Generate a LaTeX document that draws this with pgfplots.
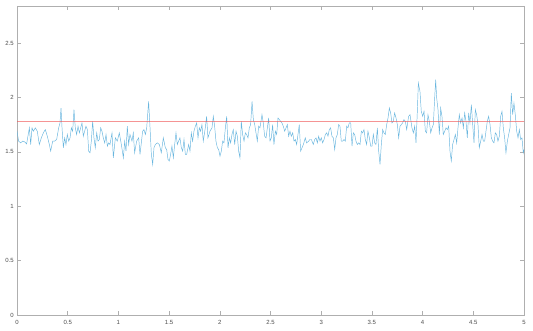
\documentclass[border=0pt]{standalone}
\usepackage{pgfplots}
\pgfplotsset{compat=1.18}
\usepackage{fontspec}
\setmainfont{Liberation Sans}
\definecolor{sigblue}{RGB}{105,182,222}
\definecolor{refred}{RGB}{240,90,90}
\definecolor{axgray}{RGB}{175,175,175}
\begin{document}
\begin{tikzpicture}
\begin{axis}[
  scale only axis,
  width=380.25pt, height=231.75pt,
  xmin=0, xmax=5, ymin=0, ymax=2.84,
  xtick={0,0.5,...,5}, ytick={0,0.5,1,1.5,2,2.5},
  axis line style={axgray, line width=0.4pt},
  tick style={axgray, line width=0.4pt},
  major tick length=3pt,
  tick align=inside,
  tick label style={font=\fontsize{4.5}{5}\selectfont, text=black!70},
  /pgf/number format/assume math mode=true,
  xticklabel style={yshift=-0.5pt},
  yticklabel style={xshift=1pt},
  clip=true,
]
\addplot[draw=sigblue, line width=0.35pt, mark=none] coordinates {
(0.000,1.689)(0.016,1.598)(0.036,1.582)(0.056,1.598)(0.076,1.591)(0.095,1.573)
(0.122,1.720)(0.135,1.567)(0.148,1.720)(0.161,1.689)(0.181,1.720)(0.200,1.689)
(0.220,1.567)(0.240,1.628)(0.260,1.674)(0.279,1.704)(0.299,1.643)(0.319,1.567)
(0.332,1.506)(0.352,1.598)(0.371,1.598)(0.391,1.613)(0.411,1.720)(0.424,1.765)
(0.434,1.902)(0.444,1.720)(0.457,1.537)(0.470,1.628)(0.483,1.567)(0.496,1.659)
(0.510,1.598)(0.523,1.628)(0.536,1.720)(0.549,1.689)(0.562,1.887)(0.575,1.720)
(0.588,1.659)(0.602,1.735)(0.615,1.674)(0.628,1.720)(0.641,1.765)(0.654,1.643)
(0.667,1.689)(0.680,1.735)(0.694,1.704)(0.707,1.506)(0.720,1.491)(0.733,1.598)
(0.746,1.780)(0.759,1.628)(0.772,1.537)(0.786,1.674)(0.799,1.598)(0.812,1.613)
(0.825,1.720)(0.838,1.689)(0.851,1.628)(0.865,1.582)(0.878,1.659)(0.891,1.552)
(0.904,1.582)(0.917,1.567)
(0.937,1.674)(0.950,1.445)(0.970,1.628)(0.989,1.598)(1.009,1.674)(1.029,1.567)
(1.049,1.445)(1.062,1.598)(1.075,1.506)(1.088,1.735)(1.101,1.567)(1.114,1.659)
(1.134,1.598)(1.147,1.674)(1.160,1.491)(1.180,1.598)(1.200,1.628)(1.213,1.476)
(1.226,1.582)(1.239,1.689)(1.252,1.704)(1.266,1.659)(1.279,1.720)(1.298,1.963)
(1.312,1.720)(1.325,1.476)(1.338,1.384)(1.351,1.537)(1.364,1.567)(1.384,1.582)
(1.404,1.567)(1.423,1.491)(1.443,1.628)(1.463,1.537)(1.476,1.521)(1.489,1.430)
(1.502,1.415)(1.515,1.476)(1.528,1.552)(1.542,1.445)(1.555,1.567)(1.568,1.674)
(1.581,1.567)(1.594,1.598)(1.607,1.628)(1.621,1.537)(1.634,1.506)(1.647,1.613)
(1.660,1.476)(1.673,1.476)(1.693,1.567)(1.706,1.506)(1.719,1.674)(1.732,1.598)
(1.745,1.689)(1.759,1.735)(1.772,1.765)(1.785,1.628)(1.798,1.720)(1.811,1.689)
(1.824,1.750)(1.837,1.598)(1.857,1.720)(1.870,1.826)(1.883,1.628)(1.903,1.689)
(1.923,1.720)(1.936,1.826)(1.949,1.735)(1.962,1.598)(1.976,1.537)(1.989,1.521)
(2.002,1.460)(2.015,1.506)(2.028,1.598)(2.041,1.582)(2.055,1.720)(2.068,1.826)
(2.081,1.537)(2.094,1.628)(2.107,1.582)(2.120,1.659)(2.133,1.704)(2.147,1.567)
(2.160,1.689)(2.173,1.643)(2.186,1.506)(2.199,1.445)(2.212,1.780)(2.225,1.659)
(2.239,1.598)(2.252,1.674)(2.265,1.659)(2.278,1.628)(2.291,1.720)(2.304,1.750)
(2.318,1.963)(2.331,1.796)(2.344,1.750)(2.357,1.674)(2.370,1.598)(2.383,1.735)
(2.396,1.720)(2.416,1.841)(2.429,1.765)(2.442,1.643)(2.456,1.628)(2.469,1.720)
(2.482,1.811)(2.495,1.598)(2.508,1.628)(2.521,1.750)(2.534,1.567)(2.548,1.689)
(2.561,1.659)(2.574,1.811)(2.587,1.796)(2.600,1.780)(2.613,1.765)(2.626,1.735)
(2.640,1.689)(2.653,1.720)(2.666,1.750)(2.679,1.643)(2.692,1.689)(2.705,1.643)
(2.719,1.674)(2.732,1.598)(2.745,1.613)(2.758,1.567)(2.771,1.659)(2.784,1.750)
(2.797,1.506)(2.811,1.537)(2.824,1.567)(2.843,1.628)(2.856,1.582)(2.876,1.598)
(2.889,1.613)
(2.903,1.613)(2.922,1.567)(2.936,1.613)(2.949,1.628)(2.962,1.582)(2.975,1.643)
(2.988,1.598)(3.001,1.628)(3.014,1.582)(3.028,1.613)(3.041,1.659)(3.054,1.674)
(3.067,1.643)(3.080,1.704)(3.093,1.720)(3.106,1.643)(3.120,1.628)(3.133,1.521)
(3.146,1.628)(3.159,1.659)(3.172,1.750)(3.185,1.735)(3.198,1.598)(3.212,1.598)
(3.225,1.613)(3.238,1.598)(3.251,1.735)(3.264,1.720)(3.277,1.765)(3.291,1.765)
(3.304,1.552)(3.317,1.674)(3.330,1.659)(3.343,1.598)(3.356,1.567)(3.369,1.582)
(3.383,1.567)(3.396,1.689)(3.409,1.674)(3.422,1.704)(3.435,1.613)(3.448,1.567)
(3.461,1.689)(3.475,1.628)(3.488,1.552)(3.501,1.552)(3.514,1.659)(3.527,1.582)
(3.540,1.567)(3.554,1.720)(3.567,1.506)(3.580,1.384)(3.593,1.567)(3.606,1.704)
(3.619,1.674)(3.632,1.659)(3.646,1.750)(3.659,1.811)(3.672,1.902)(3.685,1.857)
(3.698,1.765)(3.711,1.780)(3.724,1.857)(3.738,1.811)(3.751,1.750)(3.764,1.628)
(3.777,1.735)(3.790,1.750)(3.803,1.765)(3.816,1.796)(3.830,1.780)(3.843,1.704)
(3.862,1.826)(3.876,1.841)
(3.895,1.720)(3.909,1.674)(3.922,1.735)(3.935,1.582)(3.948,1.872)(3.958,2.131)
(3.974,2.055)(3.987,1.872)(4.001,1.826)(4.014,1.872)(4.027,1.689)(4.040,1.674)
(4.053,1.841)(4.066,1.780)(4.080,1.674)(4.093,1.720)(4.106,1.750)(4.119,1.994)
(4.129,2.162)(4.139,1.994)(4.152,1.887)(4.165,1.659)(4.178,1.902)(4.191,1.826)
(4.204,1.659)(4.218,1.689)(4.231,1.720)(4.244,1.704)(4.257,1.735)(4.270,1.506)
(4.283,1.415)(4.296,1.567)(4.310,1.613)(4.323,1.659)(4.336,1.582)(4.349,1.720)
(4.362,1.841)(4.375,1.765)(4.389,1.811)(4.402,1.720)(4.415,1.857)(4.428,1.780)
(4.441,1.628)(4.454,1.857)(4.467,1.765)(4.481,1.933)(4.494,1.750)(4.507,1.582)
(4.520,1.887)(4.533,1.841)(4.546,1.750)(4.559,1.537)(4.573,1.598)(4.586,1.659)
(4.599,1.598)(4.612,1.598)(4.625,1.689)(4.638,1.780)(4.651,1.826)(4.665,1.750)
(4.678,1.628)(4.691,1.598)(4.704,1.582)(4.717,1.674)(4.730,1.659)(4.743,1.598)
(4.757,1.643)(4.770,1.826)(4.783,1.872)(4.796,1.720)(4.809,1.628)(4.822,1.491)
(4.836,1.598)(4.849,1.659)(4.862,1.720)(4.875,2.040)(4.888,1.841)(4.901,1.948)
(4.914,1.841)(4.928,1.689)(4.941,1.628)(4.954,1.704)(4.967,1.613)(4.980,1.628)
(4.993,1.491)(5.000,1.520)
};
\addplot[refred, line width=0.45pt, mark=none] coordinates {(0,1.78) (0.5,1.7801) (1,1.78) (1.5,1.7801) (2,1.78) (2.5,1.7801) (3,1.78) (3.5,1.7801) (4,1.78) (4.5,1.7801) (5,1.78)};
\end{axis}
\path ([xshift=-12.75pt,yshift=-12pt]current axis.south west) rectangle ([xshift=6.75pt,yshift=4.5pt]current axis.north east);
\end{tikzpicture}
\end{document}
